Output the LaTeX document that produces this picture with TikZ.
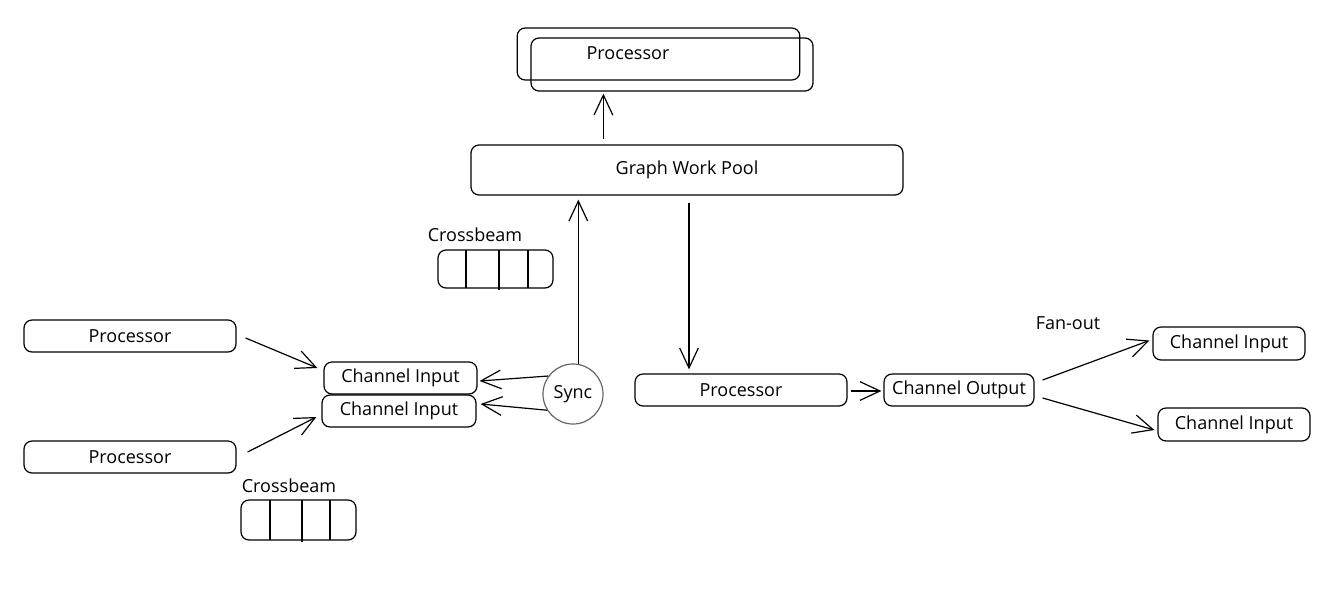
\documentclass[tikz,border=0pt]{standalone}
\usepackage{fontspec}
\setmainfont{Open Sans}
\usetikzlibrary{arrows.meta,calc}
\begin{document}
\begin{tikzpicture}[x=0.75pt,y=-0.75pt,
  line width=0.9pt,
  box/.style={draw, rounded corners=6pt, inner sep=0pt, font=\fontsize{13.5}{15}\selectfont},
  lbl/.style={inner sep=0pt, font=\fontsize{13.5}{15}\selectfont},
  arr/.style={-{Straight Barb[length=15pt,width=14pt,line width=0.9pt]}},
]
\useasboundingbox[fill=white] (0,0) rectangle (1334,590);

% top processor (two stacked frames)
\node[box, minimum width=212pt, minimum height=39pt] (topback) at (658.5,54) {};
\node[box, minimum width=211.5pt, minimum height=39.75pt] (topfront) at (672,64.5) {};
\node[lbl] (toplbl) at (628,53) {Processor};

% graph work pool
\node[box, minimum width=324pt, minimum height=37.5pt] (gwp) at (687,170) {Graph Work Pool};

% left processors
\node[box, minimum width=159pt, minimum height=24pt] (p1) at (130,336) {Processor};
\node[box, minimum width=159pt, minimum height=24pt] (p2) at (130,457) {Processor};

% channel inputs left
\node[box, minimum width=114.75pt, minimum height=24pt] (ci1) at (400.5,378) {Channel Input};
\node[box, minimum width=115.5pt, minimum height=24pt] (ci2) at (399,411) {Channel Input};

% sync
\node[draw=black!60, circle, minimum size=45pt, inner sep=0pt, font=\fontsize{13.5}{15}\selectfont] (sync) at (573,394) {Sync};

% right side
\node[box, minimum width=159pt, minimum height=24pt] (pr) at (741,390) {Processor};
\node[box, minimum width=112.5pt, minimum height=24pt] (cout) at (959,390) {Channel Output};
\node[box, minimum width=114pt, minimum height=24.75pt] (cit) at (1229,343.5) {Channel Input};
\node[box, minimum width=114pt, minimum height=24.75pt] (cib) at (1234,424.5) {Channel Input};

% labels
\node[lbl] (cb1lbl) at (475,235) {Crossbeam};
\node[lbl] (cb2lbl) at (289,486) {Crossbeam};
\node[lbl] (fanlbl) at (1068,323) {Fan-out};

% crossbeam queues
\draw[rounded corners=6pt] (438,250) rectangle (553,288);
\draw (466,250) -- (466,288) (499,250) -- (499,290) (528,250) -- (528,288);
\draw[rounded corners=6pt] (241,500) rectangle (356,540);
\draw (270,500) -- (270,540) (302,500) -- (302,542) (330,500) -- (330,540);

% helper coordinates for vertical connectors
\coordinate (upS) at ($(gwp.north west)+(133,-5)$);
\coordinate (upE0) at (upS |- topfront.south);
\coordinate (upE) at ($(upE0)+(0,2)$);
\coordinate (syS) at (sync.80);
\coordinate (syE0) at (syS |- gwp.south);
\coordinate (syE) at ($(syE0)+(0,4)$);
\coordinate (dnS) at ($(gwp.south)+(2,7)$);
\coordinate (dnE0) at (dnS |- pr.north);
\coordinate (dnE) at ($(dnE0)+(0,-4)$);

% arrows
\draw[arr] (upS) -- (upE);
\draw[arr] (syS) -- (syE);
\draw[arr] (dnS) -- (dnE);
\draw[arr] ($(p1.east)+(9,2)$) -- ($(ci1.west)+(-6,-10)$);
\draw[arr] ($(p2.east)+(11,-5)$) -- ($(ci2.west)+(-5,6)$);
\draw[arr] (sync.144) -- ($(ci1.east)+(2,3)$);
\draw[arr] (sync.212) -- ($(ci2.east)+(4,-7)$);
\draw[arr] ($(pr.east)+(3,1)$) -- ($(cout.west)+(-2,1)$);
\draw[arr] ($(cout.east)+(8,-10)$) -- ($(cit.west)+(-3,-3)$);
\draw[arr] ($(cout.east)+(8,8)$) -- ($(cib.west)+(-3,5.5)$);
\end{tikzpicture}
\end{document}
